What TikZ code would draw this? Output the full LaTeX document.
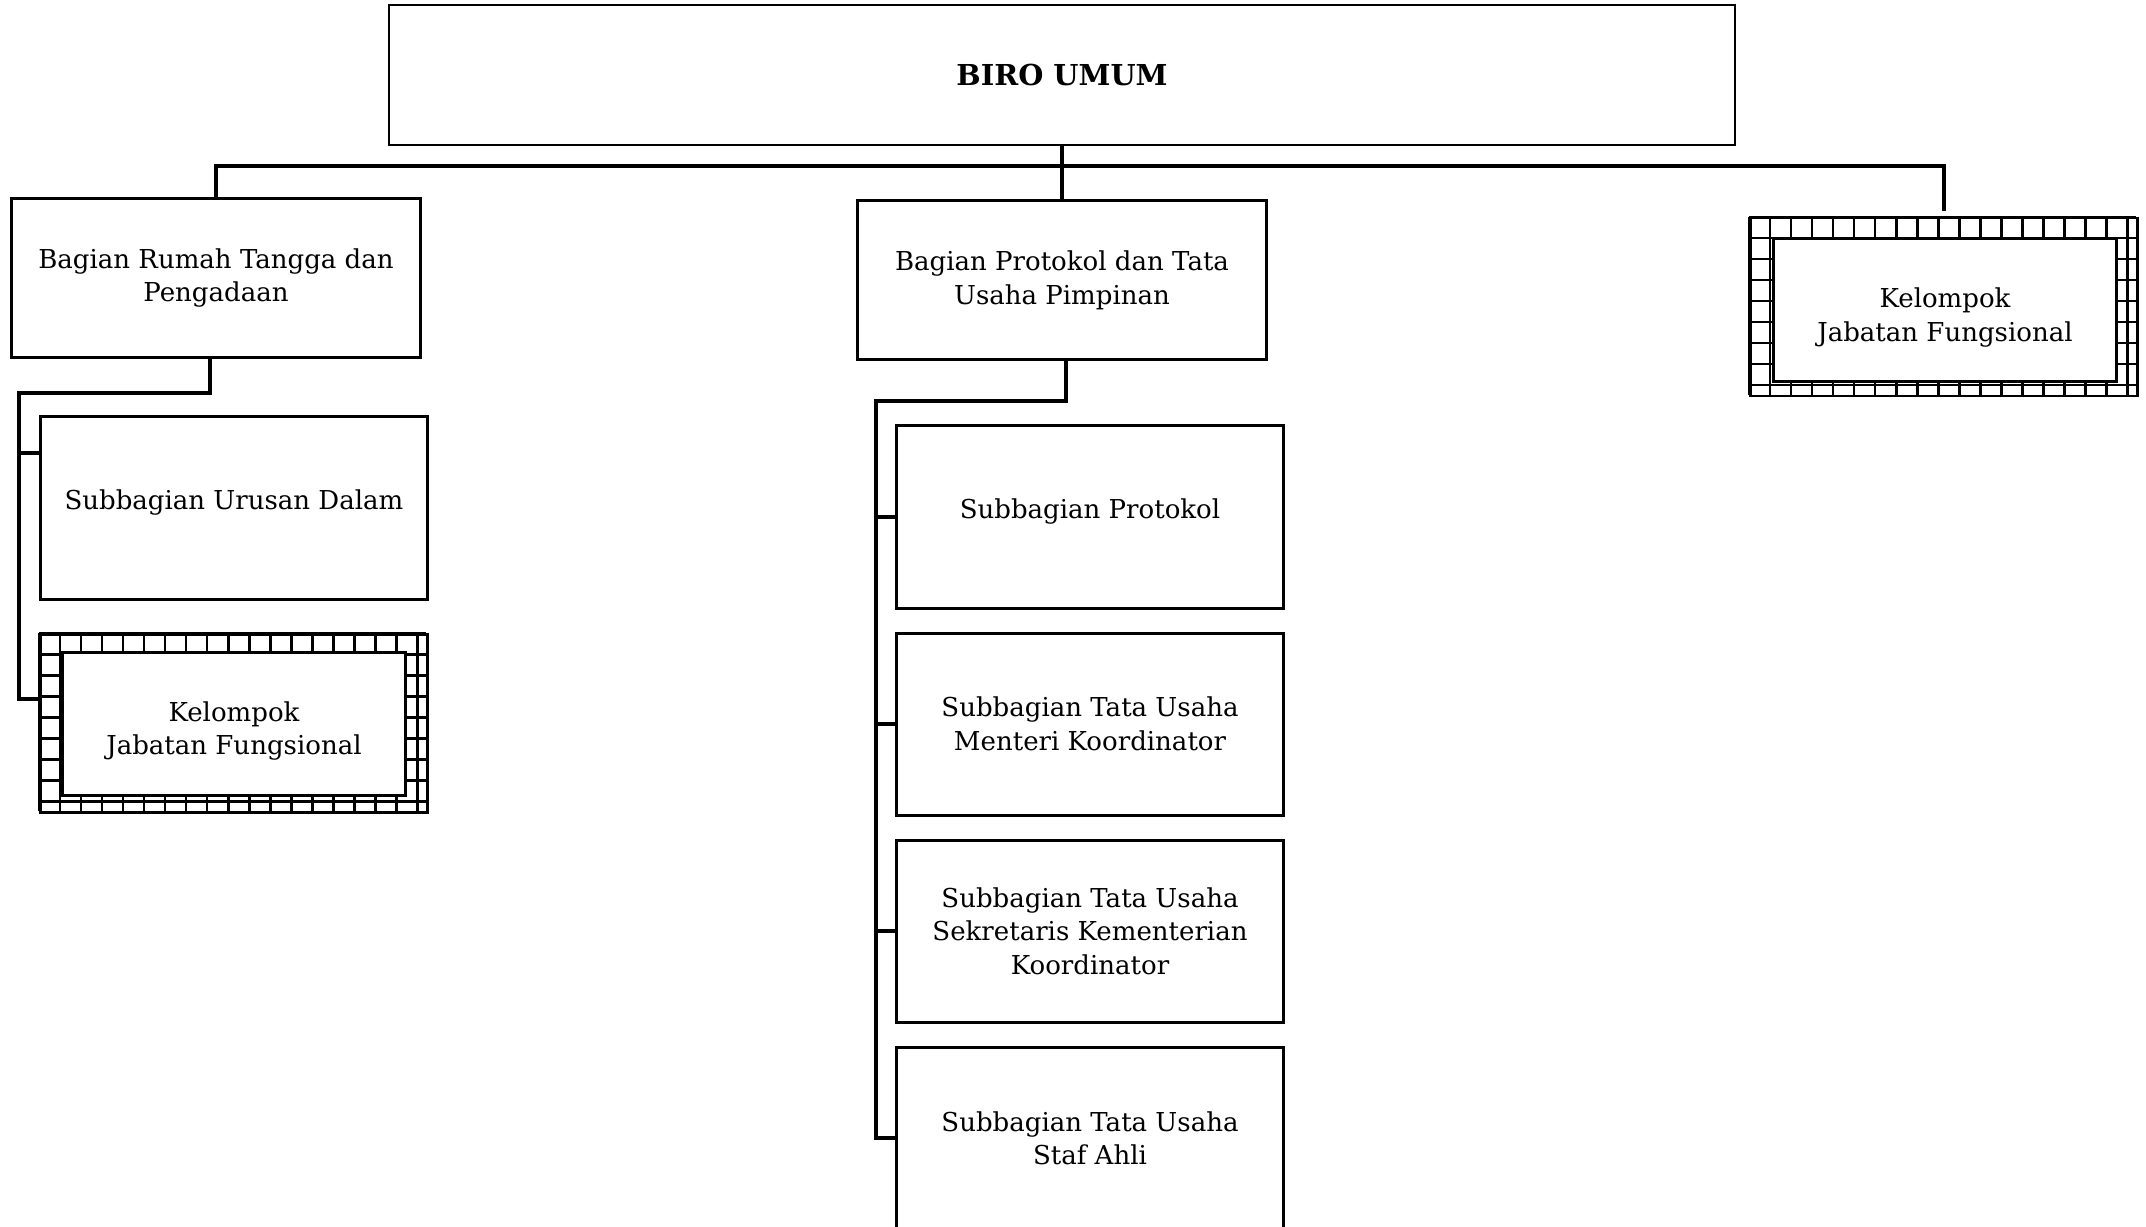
\documentclass[tikz,border=0pt]{standalone}
\usepackage{fontspec}
\setmainfont{DejaVu Serif}
\usetikzlibrary{positioning}

\begin{document}
\begin{tikzpicture}[x=0.01cm,y=-0.01cm,node distance=2.07cm,on grid,
  orgbox/.style={draw,line width=0.85pt,align=center,inner sep=0pt,font=\fontsize{7.4}{9.6}\selectfont},
  head/.style={orgbox,line width=0.6pt,minimum width=13.45cm,minimum height=1.4cm,font=\fontsize{8.2}{10}\selectfont\bfseries},
  bagian/.style={orgbox,minimum width=4.09cm,minimum height=1.59cm},
  subbag/.style={orgbox,minimum width=3.86cm,minimum height=1.82cm},
  oneline/.style={text depth=0.16cm},
  kfframe/.style={draw,line width=0.7pt,minimum width=3.87cm,minimum height=1.78cm},
  kfbox/.style={orgbox,fill=white,minimum width=3.43cm,minimum height=1.43cm,text height=0.68cm},
  gridline/.style={line width=0.7pt},
  link/.style={line width=1.1pt}]
  \useasboundingbox (0,0) rectangle (2146,1226);
  \node[head] (biro) at (1062,75) {BIRO UMUM};
  \node[bagian] (bagRT) at (216,278) {Bagian Rumah Tangga dan\\Pengadaan};
  \node[bagian] (bagPT) at (1062,280) {Bagian Protokol dan Tata\\Usaha Pimpinan};

  \node[kfframe] (kfRo) at (1944,307) {};
  \draw[gridline,shift={(kfRo.north west)}] (0,178) grid[step=0.21cm] (387,0);
  \node[kfbox] (kfR) at (1945,310) {Kelompok\\Jabatan Fungsional};

  \node[subbag,oneline] (subUD) at (234,508) {Subbagian Urusan Dalam};
  \node[kfframe] (kfLo) [below = 2.155cm of subUD] {};
  \draw[gridline,shift={(kfLo.north west)}] (0,178) grid[step=0.21cm] (387,0);
  \node[kfbox] (kfL) at (kfLo) {Kelompok\\Jabatan Fungsional};

  \node[subbag,oneline] (subPro) at (1090,517) {Subbagian Protokol};
  \node[subbag] (subTUMK) [below = of subPro] {Subbagian Tata Usaha\\Menteri Koordinator};
  \node[subbag] (subTUSK) [below = of subTUMK] {Subbagian Tata Usaha\\Sekretaris Kementerian\\Koordinator};
  \node[subbag] (subTUSA) [below = of subTUSK] {Subbagian Tata Usaha\\Staf Ahli};

  \coordinate (bus) at (0,166);
  \coordinate (lspine) at (19,393);
  \coordinate (cspine) at (876,401);
  \draw[link] (biro) -- (bagPT);
  \draw[link] (bagRT.north) |- (kfRo.north |- bus) -- ([yshift=0.06cm]kfRo.north);
  \draw[link] ([xshift=-0.06cm]bagRT.south) |- (lspine) |- ([yshift=0.245cm]kfLo.west);
  \draw[link] (lspine) |- ([yshift=0.55cm]subUD.west);
  \draw[link] ([xshift=0.04cm]bagPT.south) |- (cspine) |- (subTUSA.west);
  \foreach \n in {subPro,subTUMK,subTUSK}
    \draw[link] (cspine) |- (\n.west);
\end{tikzpicture}
\end{document}
